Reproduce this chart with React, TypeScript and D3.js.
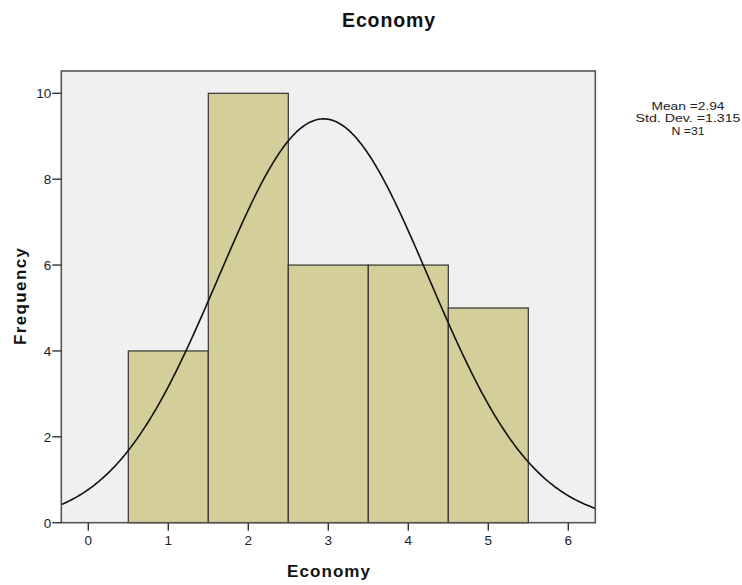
import React from "react";
import * as d3 from "d3";

const binCenters = [1, 2, 3, 4, 5];
const binCounts = [4, 10, 6, 6, 5];
const xTicks = [0, 1, 2, 3, 4, 5, 6];
const yTicks = [0, 2, 4, 6, 8, 10];
const statsLines = ["Mean =2.94", "Std. Dev. =1.315", "N =31"];
const statsWidths = [73, 105, 33];
const MEAN = 2.94;
const SD = 1.315;
const N = 31;

export default function App() {
  const W = 742, H = 585;
  const left = 61.3, right = 595.3, top = 71, bottom = 522.7;
  const x = d3.scaleLinear().domain([-0.3375, 6.3375]).range([left, right]);
  const y = d3.scaleLinear().domain([0, 10]).range([bottom, 93.3]);
  const font = "'Liberation Sans', Arial, sans-serif";

  const curvePts: [number, number][] = d3.range(0, 401).map((i) => {
    const v = -0.3375 + (i / 400) * 6.675;
    const pdf = Math.exp(-0.5 * ((v - MEAN) / SD) ** 2) / (SD * Math.sqrt(2 * Math.PI));
    return [v, N * 1 * pdf];
  });
  const line = d3.line<[number, number]>().x((d) => x(d[0])).y((d) => y(d[1]));

  return (
    <svg width={W} height={H} style={{ position: "absolute", left: 0, top: 0 }}>
      <rect width={W} height={H} fill="#ffffff" />
      <text x={388.5} y={27} textAnchor="middle" fontFamily={font} fontWeight="bold" fontSize={19.5}
        textLength={93} lengthAdjust="spacing" fill="#111">Economy</text>
      <rect x={left} y={top} width={right - left} height={bottom - top} fill="#f0f0f0" />
      {binCenters.map((c, i) => (
        <rect key={c} x={x(c - 0.5)} y={y(binCounts[i])} width={x(c + 0.5) - x(c - 0.5)} height={bottom - y(binCounts[i])}
          fill="#d3ce9a" stroke="#333" strokeWidth={1.2} />
      ))}
      <path d={line(curvePts) || ""} fill="none" stroke="#111" strokeWidth={1.6} />
      <rect x={left} y={top} width={right - left} height={bottom - top} fill="none" stroke="#555" strokeWidth={1.6} />
      {yTicks.map((t) => (
        <g key={t}>
          <line x1={left - 9} x2={left} y1={y(t)} y2={y(t)} stroke="#333" strokeWidth={1.4} />
          <text x={left - 10} y={y(t) + 5} textAnchor="end" fontFamily={font} fontSize={13.5} fill="#222">{t}</text>
        </g>
      ))}
      {xTicks.map((t) => (
        <g key={t}>
          <line x1={x(t)} x2={x(t)} y1={bottom} y2={bottom + 8} stroke="#333" strokeWidth={1.4} />
          <text x={x(t)} y={544.5} textAnchor="middle" fontFamily={font} fontSize={13.5} fill="#222">{t}</text>
        </g>
      ))}
      <text x={328.5} y={576.5} textAnchor="middle" fontFamily={font} fontWeight="bold" fontSize={17}
        textLength={83} lengthAdjust="spacing" fill="#111">Economy</text>
      <text transform={`translate(25.5,296.5) rotate(-90)`} textAnchor="middle" fontFamily={font} fontWeight="bold" fontSize={17}
        textLength={97} lengthAdjust="spacing" fill="#111">Frequency</text>
      {statsLines.map((s, i) => (
        <text key={s} x={688} y={110 + i * 12.4} textAnchor="middle" fontFamily={font} fontSize={10.8}
          textLength={statsWidths[i]} lengthAdjust="spacingAndGlyphs" fill="#222">{s}</text>
      ))}
    </svg>
  );
}
